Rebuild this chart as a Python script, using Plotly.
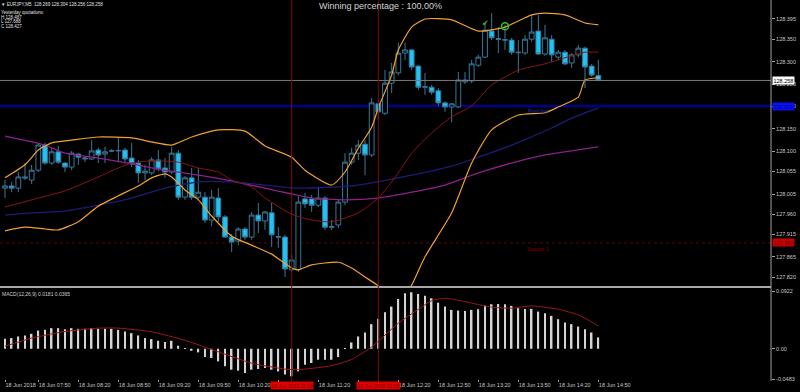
import plotly.graph_objects as go

# ---------------- data ----------------
bar_idx = list(range(90))  # 5-minute bars, 18 Jun 2018 07:25 ... 14:50

opens = [128.018,128.023,128.018,128.043,128.036,128.058,128.114,128.074,128.099,128.074,
         128.065,128.094,128.083,128.083,128.103,128.094,128.101,128.101,128.103,128.085,
         128.074,128.052,128.052,128.081,128.063,128.054,128.096,127.998,128.041,127.998,
         127.998,127.947,127.996,127.954,127.909,127.900,127.927,127.909,127.958,127.945,
         127.963,127.909,127.909,127.836,127.836,127.994,127.994,127.980,127.996,127.931,
         127.936,127.987,128.076,128.096,128.116,128.092,128.206,128.185,128.252,128.275,
         128.319,128.326,128.290,128.243,128.243,128.235,128.208,128.199,128.199,128.255,
         128.257,128.292,128.310,128.368,128.351,128.349,128.348,128.321,128.319,128.350,
         128.368,128.317,128.350,128.310,128.321,128.297,128.315,128.330,128.290,128.269]
highs = [128.036,128.032,128.054,128.074,128.070,128.119,128.119,128.108,128.112,128.076,
         128.101,128.096,128.090,128.125,128.108,128.110,128.105,128.132,128.108,128.119,
         128.081,128.070,128.087,128.103,128.085,128.110,128.103,128.045,128.063,128.063,
         128.009,128.014,128.018,127.958,127.916,127.931,127.931,127.965,127.985,127.967,
         127.985,127.931,127.914,127.869,128.000,128.007,128.003,128.021,128.000,127.947,
         127.992,128.096,128.108,128.125,128.125,128.219,128.214,128.281,128.297,128.342,
         128.342,128.328,128.292,128.275,128.248,128.241,128.212,128.208,128.277,128.277,
         128.304,128.315,128.388,128.408,128.377,128.382,128.353,128.348,128.359,128.404,
         128.404,128.382,128.359,128.326,128.326,128.319,128.337,128.333,128.295,128.304]
lows = [127.996,128.009,128.009,128.036,128.027,128.054,128.070,128.070,128.072,128.054,
        128.058,128.070,128.076,128.081,128.074,128.074,128.099,128.076,128.076,128.065,
        128.030,128.036,128.047,128.056,128.041,128.050,127.992,127.992,127.992,127.994,
        127.940,127.934,127.943,127.907,127.876,127.891,127.903,127.903,127.918,127.925,
        127.887,127.885,127.820,127.831,127.831,127.974,127.965,127.976,127.925,127.925,
        127.929,127.980,128.070,128.081,128.047,128.087,128.170,128.181,128.230,128.270,
        128.304,128.281,128.237,128.226,128.226,128.201,128.188,128.165,128.197,128.250,
        128.252,128.288,128.308,128.348,128.319,128.326,128.315,128.275,128.315,128.344,
        128.315,128.313,128.299,128.304,128.292,128.286,128.310,128.241,128.266,128.256]
closes = [128.023,128.018,128.043,128.041,128.058,128.114,128.074,128.099,128.076,128.065,
          128.096,128.087,128.085,128.101,128.092,128.099,128.101,128.102,128.083,128.072,
          128.052,128.056,128.081,128.061,128.054,128.096,127.998,128.041,127.998,128.009,
          127.947,127.998,127.954,127.909,127.898,127.927,127.909,127.958,127.945,127.965,
          127.914,127.910,127.838,127.858,127.987,127.983,127.980,127.996,127.931,127.932,
          127.987,128.076,128.096,128.114,128.092,128.208,128.188,128.252,128.277,128.319,
          128.326,128.288,128.243,128.244,128.232,128.208,128.199,128.206,128.259,128.259,
          128.295,128.310,128.370,128.353,128.350,128.348,128.321,128.320,128.350,128.366,
          128.317,128.353,128.315,128.321,128.295,128.315,128.330,128.288,128.270,128.258]

# Bollinger bands (20) and moving averages at selected bars
bb_upper_idx = [0,3,5,7,10,14,19,22,25,28,32,36,39,43,45,49,51,53,55,56,58,59,61,63,67,71,75,79,81,84,87,89]
bb_upper = [128.041,128.070,128.103,128.119,128.125,128.132,128.130,128.121,128.114,128.132,
            128.148,128.145,128.112,128.087,128.058,128.025,128.054,128.107,128.154,128.197,
            128.270,128.326,128.377,128.395,128.393,128.368,128.377,128.404,128.408,128.404,
            128.386,128.382]
bb_lower_idx = [0,3,6,8,11,14,17,20,22,24,25,27,29,31,34,37,40,43,44,46,50,52,54,56,57,58,59,60,61,63,67,70,73,77,81,83,86,87,89]
bb_lower = [127.923,127.931,127.927,127.925,127.943,127.978,128.001,128.023,128.041,128.050,
            128.043,128.014,127.992,127.956,127.911,127.891,127.871,127.840,127.836,127.847,
            127.853,127.840,127.820,127.800,127.778,127.758,127.758,127.778,127.802,127.865,
            127.963,128.074,128.148,128.181,128.186,128.199,128.221,128.259,128.264]
bb_mid_idx = [0,4,9,14,17,19,22,26,29,32,34,37,39,43,46,49,53,56,59,61,64,67,70,73,77,81,83,87,89]
bb_mid = [127.976,127.992,128.012,128.043,128.063,128.074,128.079,128.076,128.063,128.054,
          128.036,128.021,127.996,127.960,127.947,127.943,127.963,127.996,128.052,128.096,
          128.141,128.177,128.201,128.248,128.281,128.295,128.304,128.321,128.321]
ma_navy_idx = [0,4,9,14,19,24,29,34,39,44,52,59,67,71,76,82,85,89]
ma_navy = [127.958,127.963,127.967,127.980,127.996,128.018,128.032,128.032,128.025,128.018,
           128.023,128.041,128.067,128.087,128.114,128.152,128.174,128.197]
ma_purple_idx = [0,6,9,14,19,24,29,34,39,43,46,51,56,61,66,71,76,81,89]
ma_purple = [128.134,128.114,128.096,128.085,128.072,128.058,128.047,128.034,128.018,128.005,
             127.996,127.992,127.996,128.009,128.025,128.052,128.074,128.092,128.110]

# MACD(12,26,9)
macd_hist = [0.0159,0.0170,0.0196,0.0212,0.0238,0.0291,0.0302,0.0329,0.0329,0.0313,
             0.0329,0.0318,0.0318,0.0329,0.0318,0.0318,0.0318,0.0302,0.0275,0.0249,
             0.0212,0.0170,0.0154,0.0127,0.0106,0.0127,0.0048,0.0011,-0.0032,-0.0058,
             -0.0133,-0.0148,-0.0201,-0.0281,-0.0334,-0.0350,-0.0387,-0.0334,-0.0323,-0.0307,
             -0.0334,-0.0361,-0.0413,-0.0440,-0.0361,-0.0254,-0.0228,-0.0175,-0.0175,-0.0175,
             -0.0133,0.0008,0.0101,0.0196,0.0260,0.0392,0.0477,0.0583,0.0673,0.0795,
             0.0885,0.0901,0.0874,0.0848,0.0806,0.0736,0.0673,0.0620,0.0610,0.0604,
             0.0620,0.0631,0.0689,0.0710,0.0715,0.0710,0.0684,0.0647,0.0636,0.0636,
             0.0593,0.0567,0.0525,0.0472,0.0418,0.0392,0.0355,0.0313,0.0260,0.0181]
signal_idx = [0,4,9,14,17,22,27,32,37,42,44,49,52,55,59,62,64,66,69,73,76,79,83,86,89]
signal = [0.0040,0.0170,0.0275,0.0329,0.0329,0.0270,0.0135,-0.0050,-0.0230,-0.0325,
          -0.0334,-0.0270,-0.0170,0.0030,0.0408,0.0630,0.0768,0.0806,0.0752,0.0663,
          0.0647,0.0684,0.0631,0.0541,0.0365]

# axis ticks
time_tick_idx = [0, 5, 11, 17, 23, 29, 35, 41, 47, 53, 59, 65, 71, 77, 83, 89]
time_tick_text = ["18 Jun 2018", "18 Jun 07:50", "18 Jun 08:20", "18 Jun 08:50", "18 Jun 09:20",
                  "18 Jun 09:50", "18 Jun 10:20", "18 Jun 10:50", "18 Jun 11:20", "18 Jun 11:50",
                  "18 Jun 12:20", "18 Jun 12:50", "18 Jun 13:20", "18 Jun 13:50", "18 Jun 14:20",
                  "18 Jun 14:50"]
price_ticks = [128.395, 128.350, 128.300, 128.250, 128.200, 128.150, 128.100, 128.055,
               128.005, 127.960, 127.915, 127.865, 127.820]
price_tick_text = ["128.395", "128.350", "128.300", "128.250", "128.200", "128.150", "128.100",
                   "128.055", "128.005", "127.960", "127.915", "127.865", "127.820"]
macd_ticks = [0.0922, 0.0, -0.0483]
macd_tick_text = ["0.0922", "0.00", "-0.0483"]

bid_price = 128.258
blue_level = 128.201
red_level = 127.896
vline_bars = [43, 56]
vline_text = ["18 Jun 2018 11:00", "18 Jun 2018 12:05"]
check_bar, check_price = 72, 128.386
circle_bar, circle_price = 75, 128.379

header_lines = ["\u25bc EURJPY,M5  128.269 128.304 128.256 128.258",
                "Yesterday quotations:", "H 128.487", "L 127.688", "C 128.427"]
title_text = "Winning percentage : 100.00%"
macd_label = "MACD(12,26,9) 0.0181 0.0365"

# ---------------- figure ----------------
FONT = "Liberation Sans"
ORANGE = "#f0a030"
SMOOTH = 0.55
fig = go.Figure()

fig.add_trace(go.Scatter(x=ma_purple_idx, y=ma_purple, mode="lines", xaxis="x", yaxis="y",
                         line=dict(color="#8e1f8e", width=1.3, shape="spline", smoothing=SMOOTH)))
fig.add_trace(go.Scatter(x=ma_navy_idx, y=ma_navy, mode="lines", xaxis="x", yaxis="y",
                         line=dict(color="#1c1c78", width=1.3, shape="spline", smoothing=SMOOTH)))
fig.add_trace(go.Scatter(x=bb_mid_idx, y=bb_mid, mode="lines", xaxis="x", yaxis="y",
                         line=dict(color="#8a1616", width=1, shape="spline", smoothing=SMOOTH)))
fig.add_trace(go.Scatter(x=bb_upper_idx, y=bb_upper, mode="lines", xaxis="x", yaxis="y",
                         line=dict(color=ORANGE, width=1.2, shape="spline", smoothing=SMOOTH)))
fig.add_trace(go.Scatter(x=bb_lower_idx, y=bb_lower, mode="lines", xaxis="x", yaxis="y",
                         line=dict(color=ORANGE, width=1.2, shape="spline", smoothing=SMOOTH)))

fig.add_trace(go.Candlestick(
    x=bar_idx, open=opens, high=highs, low=lows, close=closes, xaxis="x", yaxis="y",
    increasing=dict(line=dict(color="#3a7898", width=1), fillcolor="#000000"),
    decreasing=dict(line=dict(color="#3a7898", width=1), fillcolor="#1ec4f6"),
    whiskerwidth=0))

fig.add_trace(go.Scatter(x=[circle_bar], y=[circle_price], mode="markers", xaxis="x", yaxis="y",
                         marker=dict(symbol="circle-open", size=7, color="#2ec02e",
                                     line=dict(width=1.5, color="#2ec02e"))))

fig.add_trace(go.Bar(x=bar_idx, y=macd_hist, xaxis="x", yaxis="y2", width=0.24,
                     marker=dict(color="#d4d4d4", line=dict(width=0))))
fig.add_trace(go.Scatter(x=signal_idx, y=signal, mode="lines", xaxis="x", yaxis="y2",
                         line=dict(color="#9a1818", width=1, shape="spline", smoothing=SMOOTH)))

PLOT_H = 379.0
main_bottom = (PLOT_H - 286) / PLOT_H
macd_top = (PLOT_H - 288) / PLOT_H
sep_y = (PLOT_H - 287) / PLOT_H

shapes = [
    dict(type="line", xref="paper", yref="y", x0=0, x1=1, y0=blue_level, y1=blue_level,
         line=dict(color="#00008b", width=2.5), layer="below"),
    dict(type="line", xref="paper", yref="y", x0=0, x1=1, y0=red_level, y1=red_level,
         line=dict(color="#6a0000", width=1, dash="dot"), layer="below"),
    dict(type="line", xref="paper", yref="y", x0=0, x1=1, y0=bid_price, y1=bid_price,
         line=dict(color="#7a7a7a", width=1)),
    dict(type="line", xref="paper", yref="paper", x0=0, x1=1, y0=sep_y, y1=sep_y,
         line=dict(color="#a8a8a8", width=2)),
    dict(type="line", xref="paper", yref="paper", x0=1, x1=1, y0=-0.005, y1=1,
         line=dict(color="#a0a0a0", width=1)),
]
for b in vline_bars:
    shapes.append(dict(type="line", xref="x", yref="paper", x0=b, x1=b, y0=-0.01, y1=1,
                       line=dict(color="#7e0c0c", width=1)))

annotations = [
    dict(text=title_text, xref="paper", yref="paper", x=380 / 771, y=1, xanchor="center",
         yanchor="top", showarrow=False, font=dict(family=FONT, size=9, color="#d4d4d4"), yshift=1),
    dict(text=macd_label, xref="paper", yref="paper", x=0, y=macd_top, xanchor="left",
         yanchor="top", showarrow=False, font=dict(family=FONT, size=5, color="#d0d0d0"), yshift=-1),
    dict(text="128.258", xref="paper", yref="y", x=1, y=bid_price, xanchor="left", yanchor="middle",
         showarrow=False, bgcolor="#ffffff", borderpad=0.5, xshift=1,
         font=dict(family=FONT, size=5.5, color="#000000")),
    dict(text="128.201", xref="paper", yref="y", x=1, y=blue_level, xanchor="left", yanchor="middle",
         showarrow=False, bgcolor="#0a10f0", borderpad=0.5, xshift=1,
         font=dict(family=FONT, size=5.5, color="#0000a0")),
    dict(text="127.896", xref="paper", yref="y", x=1, y=red_level, xanchor="left", yanchor="middle",
         showarrow=False, bgcolor="#c80000", borderpad=0.5, xshift=1,
         font=dict(family=FONT, size=5.5, color="#700000")),
    dict(text="Pivot line", xref="x", yref="y", x=80, y=blue_level, xanchor="center", yanchor="top",
         showarrow=False, font=dict(family=FONT, size=5, color="#2030c8"), yshift=0),
    dict(text="Support 1", xref="x", yref="y", x=80, y=red_level, xanchor="center", yanchor="top",
         showarrow=False, font=dict(family=FONT, size=5, color="#8a0000"), yshift=-1),
    dict(text="\u2714", xref="x", yref="y", x=check_bar, y=check_price, xanchor="center",
         yanchor="middle", showarrow=False, font=dict(family="DejaVu Sans", size=8, color="#2ec02e")),
]
for b, t in zip(vline_bars, vline_text):
    annotations.append(dict(text=t, xref="x", yref="paper", x=b, y=0, xanchor="center", yanchor="top",
                            yshift=-2, showarrow=False, bgcolor="#e00000", borderpad=0.5,
                            font=dict(family=FONT, size=5, color="#800000")))
header_y = [4, 12.5, 17, 21.5, 26]
for line, yc in zip(header_lines, header_y):
    annotations.append(dict(text=line, xref="paper", yref="paper", x=0, y=1, xanchor="left",
                            yanchor="middle", yshift=-yc, showarrow=False, borderpad=0,
                            font=dict(family=FONT, size=4.5, color="#e0e0e0")))

fig.update_layout(
    width=800, height=392,
    margin=dict(l=0, r=29, t=0, b=13, autoexpand=False),
    paper_bgcolor="#000000", plot_bgcolor="#000000",
    showlegend=False,
    boxgap=0.1, boxgroupgap=0.2,
    xaxis=dict(domain=[0, 1], range=[-0.75, 114.9], anchor="y2", showgrid=False, zeroline=False,
               showline=False, tickmode="array", tickvals=time_tick_idx, ticktext=time_tick_text,
               ticks="outside", ticklen=2, tickcolor="#a0a0a0", ticklabelposition="outside right",
               tickangle=0, automargin=False,
               tickfont=dict(family=FONT, size=5.5, color="#c8c8c8"),
               rangeslider=dict(visible=False)),
    yaxis=dict(domain=[main_bottom, 1], range=[127.800, 128.4373], side="right", anchor="x",
               showgrid=False, zeroline=False, showline=False, tickmode="array", automargin=False,
               tickvals=price_ticks, ticktext=price_tick_text, ticks="outside", ticklen=3,
               tickcolor="#a0a0a0", tickfont=dict(family=FONT, size=5.5, color="#c8c8c8")),
    yaxis2=dict(domain=[0, macd_top], range=[-0.0483, 0.0970], side="right", anchor="x",
                showgrid=False, zeroline=False, showline=False, tickmode="array", automargin=False,
                tickvals=macd_ticks, ticktext=macd_tick_text, ticks="outside", ticklen=3,
                tickcolor="#a0a0a0", tickfont=dict(family=FONT, size=5.5, color="#c8c8c8")),
    shapes=shapes,
    annotations=annotations,
)

fig.write_html("out.html", config={"displayModeBar": False},
               post_script="document.body.style.margin='0';document.body.style.background='#000';")
